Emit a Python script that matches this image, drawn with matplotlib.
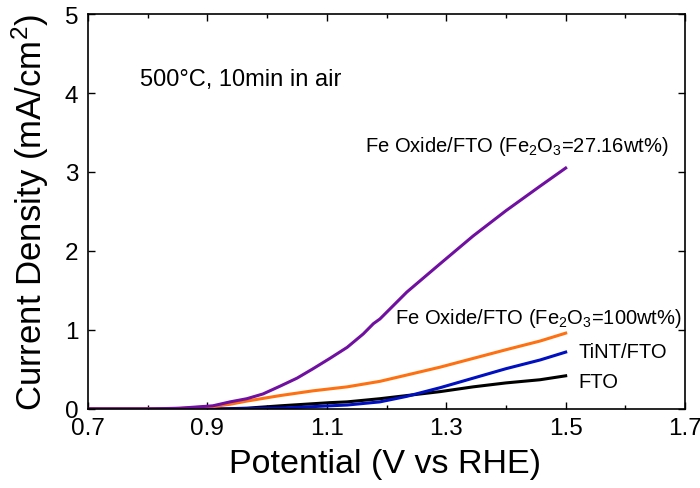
import matplotlib
matplotlib.use("Agg")
import matplotlib.pyplot as plt
from matplotlib.ticker import MultipleLocator

plt.rcParams['font.family'] = ['Liberation Sans', 'DejaVu Sans']
plt.rcParams['mathtext.default'] = 'regular'

# Data
v_purple = [0.70, 0.80, 0.854, 0.909, 0.938, 0.966, 0.993, 1.022, 1.05, 1.077, 1.105, 1.134,
            1.161, 1.178, 1.189, 1.234, 1.29, 1.345, 1.40, 1.457, 1.50]
j_purple = [0.0, 0.0, 0.01, 0.04, 0.09, 0.13, 0.19, 0.29, 0.39, 0.51, 0.64, 0.78,
            0.95, 1.08, 1.14, 1.48, 1.84, 2.19, 2.51, 2.82, 3.05]

v_orange = [0.70, 0.80, 0.83, 0.86, 0.909, 0.938, 0.966, 1.022, 1.077, 1.134, 1.189, 1.234,
            1.29, 1.345, 1.40, 1.457, 1.50]
j_orange = [0.0, 0.0, 0.0, 0.01, 0.03, 0.06, 0.10, 0.17, 0.23, 0.28, 0.35, 0.43,
            0.53, 0.64, 0.75, 0.86, 0.96]

v_blue = [0.70, 0.85, 0.93, 1.022, 1.105, 1.134, 1.189, 1.234, 1.29, 1.345, 1.40, 1.457, 1.50]
j_blue = [0.0, 0.0, 0.0, 0.01, 0.04, 0.05, 0.09, 0.16, 0.27, 0.39, 0.51, 0.62, 0.72]

v_black = [0.70, 0.85, 0.92, 0.966, 1.022, 1.105, 1.134, 1.189, 1.234, 1.29, 1.345, 1.40, 1.457, 1.50]
j_black = [0.0, 0.0, 0.0, 0.01, 0.04, 0.08, 0.09, 0.13, 0.17, 0.22, 0.28, 0.33, 0.37, 0.42]

labels = [r"Fe Oxide/FTO (Fe$_2$O$_3$=27.16wt%)", r"Fe Oxide/FTO (Fe$_2$O$_3$=100wt%)",
          "TiNT/FTO", "FTO"]
x_ticks = [0.7, 0.9, 1.1, 1.3, 1.5, 1.7]
y_ticks = [0, 1, 2, 3, 4, 5]

fig = plt.figure(figsize=(7, 4.89), dpi=100)
ax = fig.add_axes([0.1257, 0.1616, 0.853, 0.8077])

ax.plot(v_black, j_black, color='black', lw=2.2)
ax.plot(v_blue, j_blue, color='#0010c0', lw=2.2)
ax.plot(v_orange, j_orange, color='#ff7010', lw=2.2)
ax.plot(v_purple, j_purple, color='#7010a0', lw=2.2)

ax.set_xlim(0.7, 1.7)
ax.set_ylim(0, 5)
ax.set_xticks(x_ticks)
ax.set_xticklabels([f"{t:.1f}" for t in x_ticks])
ax.set_yticks(y_ticks)
ax.xaxis.set_minor_locator(MultipleLocator(0.1))
ax.tick_params(which='both', direction='in', top=True, right=True, labelsize=17.5)
ax.tick_params(axis='x', which='major', pad=6)
ax.tick_params(axis='y', which='major', pad=7)
ax.tick_params(which='major', length=5, width=1)
ax.tick_params(which='minor', length=3, width=1)
for s in ax.spines.values():
    s.set_linewidth(1.2)

ax.set_xlabel("Potential (V vs RHE)", fontsize=24.5)
ax.set_ylabel("Current Density (mA/cm$^2$)", fontsize=25)
ax.xaxis.set_label_coords(0.4975, -0.1)
ax.yaxis.set_label_coords(-0.062, 0.5)

ax.text(0.787, 4.18, "500°C, 10min in air", fontsize=17, va='center', ha='left')
ax.text(1.672, 3.33, labels[0], fontsize=14.5, va='center', ha='right')
ax.text(1.695, 1.16, labels[1], fontsize=14.5, va='center', ha='right')
ax.text(1.521, 0.73, labels[2], fontsize=14.5, va='center', ha='left')
ax.text(1.521, 0.35, labels[3], fontsize=14.5, va='center', ha='left')

fig.savefig("out.png", dpi=100)
